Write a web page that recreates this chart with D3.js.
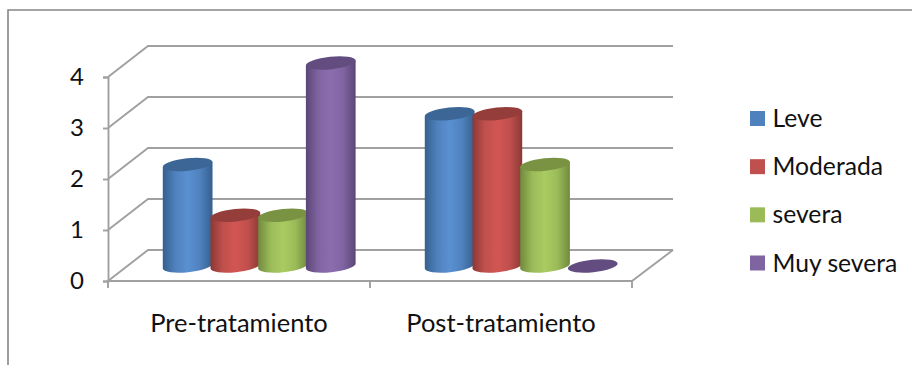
<!DOCTYPE html>
<html>
<head>
<meta charset="utf-8">
<script src="https://cdn.jsdelivr.net/npm/d3@7"></script>
<style>
  html, body { margin: 0; padding: 0; background: #fff; }
  svg { display: block; }
  text { font-family: Lato, "Open Sans", sans-serif; fill: #111; }
</style>
</head>
<body>
<svg id="chart" width="912" height="365"></svg>
<script>
// Chart data
const categories = ["Pre-tratamiento", "Post-tratamiento"];
const seriesNames = ["Leve", "Moderada", "severa", "Muy severa"];
const leve = [2, 3];
const moderada = [1, 3];
const severa = [1, 2];
const muySevera = [4, 0];
const seriesValues = [leve, moderada, severa, muySevera];
const valueTicks = [0, 1, 2, 3, 4];

// Palette: base, highlight, shaded edge, cap
const palette = [
  { base: "#4f81bd", light: "#5a90d2", edge: "#34608f", cap: "#3b6696" },
  { base: "#c0504d", light: "#d25653", edge: "#8c3836", cap: "#943d3a" },
  { base: "#9bbb59", light: "#a9cb61", edge: "#708a3e", cap: "#799343" },
  { base: "#8064a2", light: "#8b6daf", edge: "#5b4676", cap: "#634c80" }
];

const svg = d3.select("#chart");
const gridColor = "#a0a0a0";

// Scales for the front plane, the back wall and the bar bases
const x = d3.scaleBand().domain(categories).range([108, 632]);
const xSeries = d3.scaleBand().domain(seriesNames).range([55.8, 246.6]);
const yFront = d3.scaleLinear().domain([0, 4]).range([281, 77]);
const yBack = d3.scaleLinear().domain([0, 4]).range([250, 46]);
const yBar = d3.scaleLinear().domain([0, 4]).range([266, 63]);
const backLeft = 148, backRight = 673;

// Outer frame, open on the right and at the bottom
svg.append("path")
  .attr("d", "M8,365V10H912")
  .attr("fill", "none").attr("stroke", "#868686").attr("stroke-width", 1.6);

// Back wall and side wall grid lines
const grid = svg.append("g").attr("fill", "none").attr("stroke", gridColor).attr("stroke-width", 1.9);
valueTicks.forEach(v => {
  grid.append("path").attr("d",
    `M${x.range()[0]},${yFront(v)}L${backLeft},${yBack(v)}H${backRight}`);
});
// Floor edges
grid.append("path").attr("d",
  `M${x.range()[0]},${yFront(0)}H${x.range()[1]}L${backRight},${yBack(0)}`);

// Value axis
const yAxis = d3.axisLeft(yFront).tickValues(valueTicks).tickSize(5).tickFormat(d3.format("d"));
const yG = svg.append("g").attr("transform", `translate(${x.range()[0]},0)`).call(yAxis);
yG.select(".domain").attr("stroke", gridColor).attr("stroke-width", 1.9);
yG.selectAll("line").attr("stroke", gridColor).attr("stroke-width", 1.9);
yG.selectAll("text").attr("font-size", 24).attr("x", -24).attr("dy", "0.33em")
  .style("font-family", "Lato, sans-serif").style("fill", "#111");

// Category axis ticks at the band edges
const catEdges = [x.range()[0], x.range()[0] + x.step(), x.range()[1]];
grid.selectAll(null).data(catEdges).join("line")
  .attr("x1", d => d).attr("x2", d => d)
  .attr("y1", yFront(0)).attr("y2", yFront(0) + 7);

svg.append("g").selectAll("text").data(categories).join("text")
  .attr("x", d => x(d) + x.bandwidth() / 2)
  .attr("y", 332)
  .attr("text-anchor", "middle")
  .attr("font-size", 25.5)
  .text(d => d);

// Horizontal shading that gives the cylinders their roundness
const defs = svg.append("defs");
palette.forEach((p, i) => {
  const g = defs.append("linearGradient").attr("id", "cyl" + i)
    .attr("x1", 0).attr("x2", 1).attr("y1", 0).attr("y2", 0);
  [[0, p.edge], [0.25, p.base], [0.5, p.light], [0.75, p.base], [1, p.edge]]
    .forEach(([o, c]) => g.append("stop").attr("offset", o).attr("stop-color", c));
});

// Cylinders
const rx = 25, ry = 6.2, tilt = -6;
const dx = rx * Math.cos(tilt * Math.PI / 180);
const dy = rx * Math.sin(tilt * Math.PI / 180);
const bars = svg.append("g");
categories.forEach((cat, c) => {
  seriesNames.forEach((name, s) => {
    const v = seriesValues[s][c];
    const cx = x(cat) + xSeries(name) + xSeries.bandwidth() / 2;
    const yb = yBar(0), yt = yBar(v);
    if (v > 0) {
      bars.append("path")
        .attr("fill", `url(#cyl${s})`)
        .attr("d",
          `M${cx - dx},${yt - dy}` +
          `L${cx - dx},${yb - dy}` +
          `A${rx},${ry} ${tilt} 0 0 ${cx + dx},${yb + dy}` +
          `L${cx + dx},${yt + dy}Z`);
    }
    bars.append("ellipse")
      .attr("transform", `translate(${cx},${yt}) rotate(${tilt})`)
      .attr("rx", rx).attr("ry", ry)
      .attr("fill", palette[s].cap);
  });
});

// Legend
const legendY = d3.scalePoint().domain(seriesNames).range([126.5, 271]);
const legend = svg.append("g").selectAll("g").data(seriesNames).join("g")
  .attr("transform", d => `translate(750,${legendY(d)})`);
legend.append("rect")
  .attr("y", -15.5).attr("width", 15).attr("height", 15)
  .attr("fill", (d, i) => palette[i].base);
legend.append("text")
  .attr("x", 22.5).attr("y", 0.5).attr("font-size", 24.7)
  .text(d => d);
</script>
</body>
</html>
